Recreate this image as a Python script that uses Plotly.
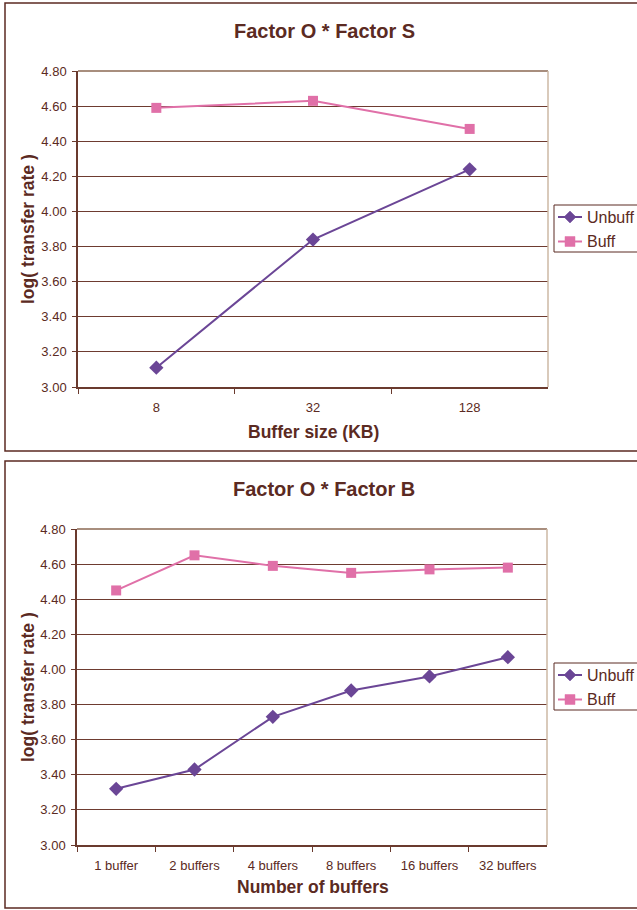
import plotly.graph_objects as go

W, H = 637, 910

# Factor O * Factor S
size_labels = ["8", "32", "128"]
size_unbuff = [3.11, 3.84, 4.24]
size_buff = [4.59, 4.63, 4.47]

# Factor O * Factor B
buf_labels = ["1 buffer", "2 buffers", "4 buffers", "8 buffers", "16 buffers", "32 buffers"]
buf_unbuff = [3.32, 3.43, 3.73, 3.88, 3.96, 4.07]
buf_buff = [4.45, 4.65, 4.59, 4.55, 4.57, 4.58]

y_ticks = [3.0, 3.2, 3.4, 3.6, 3.8, 4.0, 4.2, 4.4, 4.6, 4.8]
series_names = ["Unbuff", "Buff"]

FONT = "Liberation Sans, Arial, sans-serif"
TXT = "#5B2A22"
GRID = "#6E3B30"
AXIS = "#6A3A2E"
PURPLE = "#6B4696"
PINK = "#E070A8"


def px(x):
    return x / W


def py(y):
    return 1 - y / H


fig = go.Figure()

panels = [
    dict(labels=size_labels, unbuff=size_unbuff, buff=size_buff, ax="",
         xd=[px(78), px(548)], yd=[py(387), py(71)], box=(3, 451), leg_top=205,
         title="Factor O * Factor S", title_y=31, xtitle="Buffer size (KB)", xtitle_y=432,
         ytitle_y=229),
    dict(labels=buf_labels, unbuff=buf_unbuff, buff=buf_buff, ax="2",
         xd=[px(77), px(547)], yd=[py(845), py(529)], box=(461, 908), leg_top=663,
         title="Factor O * Factor B", title_y=489, xtitle="Number of buffers", xtitle_y=887,
         ytitle_y=687),
]

for p in panels:
    xa = "x" + p["ax"]
    ya = "y" + p["ax"]
    fig.add_trace(go.Scatter(
        x=p["labels"], y=p["unbuff"], name=series_names[0], mode="lines+markers",
        xaxis=xa, yaxis=ya, showlegend=False,
        line=dict(color=PURPLE, width=2),
        marker=dict(symbol="diamond", size=11, color=PURPLE),
    ))
    fig.add_trace(go.Scatter(
        x=p["labels"], y=p["buff"], name=series_names[1], mode="lines+markers",
        xaxis=xa, yaxis=ya, showlegend=False,
        line=dict(color=PINK, width=2),
        marker=dict(symbol="square", size=10, color=PINK),
    ))


def x_axis(p):
    return dict(
        type="category", range=[-0.5, len(p["labels"]) - 0.5], domain=p["xd"],
        anchor="y" + p["ax"],
        showgrid=False, showline=True, linecolor=AXIS, linewidth=1.5,
        ticks="outside", tickson="boundaries", ticklen=5, tickcolor=AXIS,
        ticklabelstandoff=8,
        tickfont=dict(family=FONT, size=13, color=TXT), zeroline=False, fixedrange=True,
    )


def y_axis(p):
    return dict(
        range=[3.0, 4.8], tickvals=y_ticks, tickformat=".2f", domain=p["yd"],
        anchor="x" + p["ax"],
        showgrid=True, gridcolor=GRID, gridwidth=1,
        showline=True, linecolor=AXIS, linewidth=1.5,
        ticks="outside", ticklen=4, tickcolor=AXIS, ticklabelstandoff=3,
        tickfont=dict(family=FONT, size=13, color=TXT), zeroline=False, fixedrange=True,
    )


fig.update_layout(
    width=W, height=H,
    margin=dict(l=0, r=0, t=0, b=0, autoexpand=False),
    paper_bgcolor="white", plot_bgcolor="white",
    xaxis=x_axis(panels[0]), yaxis=y_axis(panels[0]),
    xaxis2=x_axis(panels[1]), yaxis2=y_axis(panels[1]),
    showlegend=False,
)

shapes = []
annotations = []


def ann(text, x, y, size, xanchor="center", angle=0):
    annotations.append(dict(
        text=text, x=px(x), y=py(y), xref="paper", yref="paper", showarrow=False,
        xanchor=xanchor, yanchor="middle", textangle=angle,
        font=dict(family=FONT, size=size, color=TXT)))


for p in panels:
    top, bottom = p["box"]
    # outer frame of the chart box
    shapes.append(dict(type="rect", xref="paper", yref="paper",
                       x0=px(5), x1=1.05, y0=py(bottom), y1=py(top),
                       line=dict(color="#5B2A22", width=1.5), layer="below"))
    # plot-area top and right borders
    xr = "x" + p["ax"] + " domain"
    yr = "y" + p["ax"] + " domain"
    shapes.append(dict(type="line", xref=xr, yref=yr, x0=0, x1=1, y0=1, y1=1,
                       line=dict(color="#A88E7E", width=2), layer="above"))
    shapes.append(dict(type="line", xref=xr, yref=yr, x0=1, x1=1, y0=0, y1=1,
                       line=dict(color="#CDB8A4", width=1.5), layer="above"))

    # legend box with line + marker swatches
    lt = p["leg_top"]
    shapes.append(dict(type="rect", xref="paper", yref="paper",
                       x0=px(554), x1=1.05, y0=py(lt + 47), y1=py(lt),
                       line=dict(color="#5B2A22", width=1), fillcolor="white", layer="above"))
    for i, (name, color) in enumerate(zip(series_names, [PURPLE, PINK])):
        ry = lt + 12 + 24.5 * i
        shapes.append(dict(type="line", xref="paper", yref="paper",
                           x0=px(558), x1=px(582), y0=py(ry), y1=py(ry),
                           line=dict(color=color, width=2), layer="above"))
        if i == 0:
            path = "M {},{} L {},{} L {},{} L {},{} Z".format(
                px(564), py(ry), px(570), py(ry - 6), px(576), py(ry), px(570), py(ry + 6))
        else:
            path = "M {},{} L {},{} L {},{} L {},{} Z".format(
                px(565), py(ry - 5), px(575), py(ry - 5), px(575), py(ry + 5), px(565), py(ry + 5))
        shapes.append(dict(type="path", xref="paper", yref="paper", path=path,
                           fillcolor=color, line=dict(color=color, width=0.5), layer="above"))
        ann(name, 585, ry, 16, xanchor="left")

    ann("<b>" + p["title"] + "</b>", 324, p["title_y"], 20)
    ann("<b>" + p["xtitle"] + "</b>", 313, p["xtitle_y"], 17.5)
    ann("<b>log( transfer rate )</b>", 28, p["ytitle_y"], 17.5, angle=-90)

fig.update_layout(shapes=shapes, annotations=annotations)

fig.write_html("out.html")
